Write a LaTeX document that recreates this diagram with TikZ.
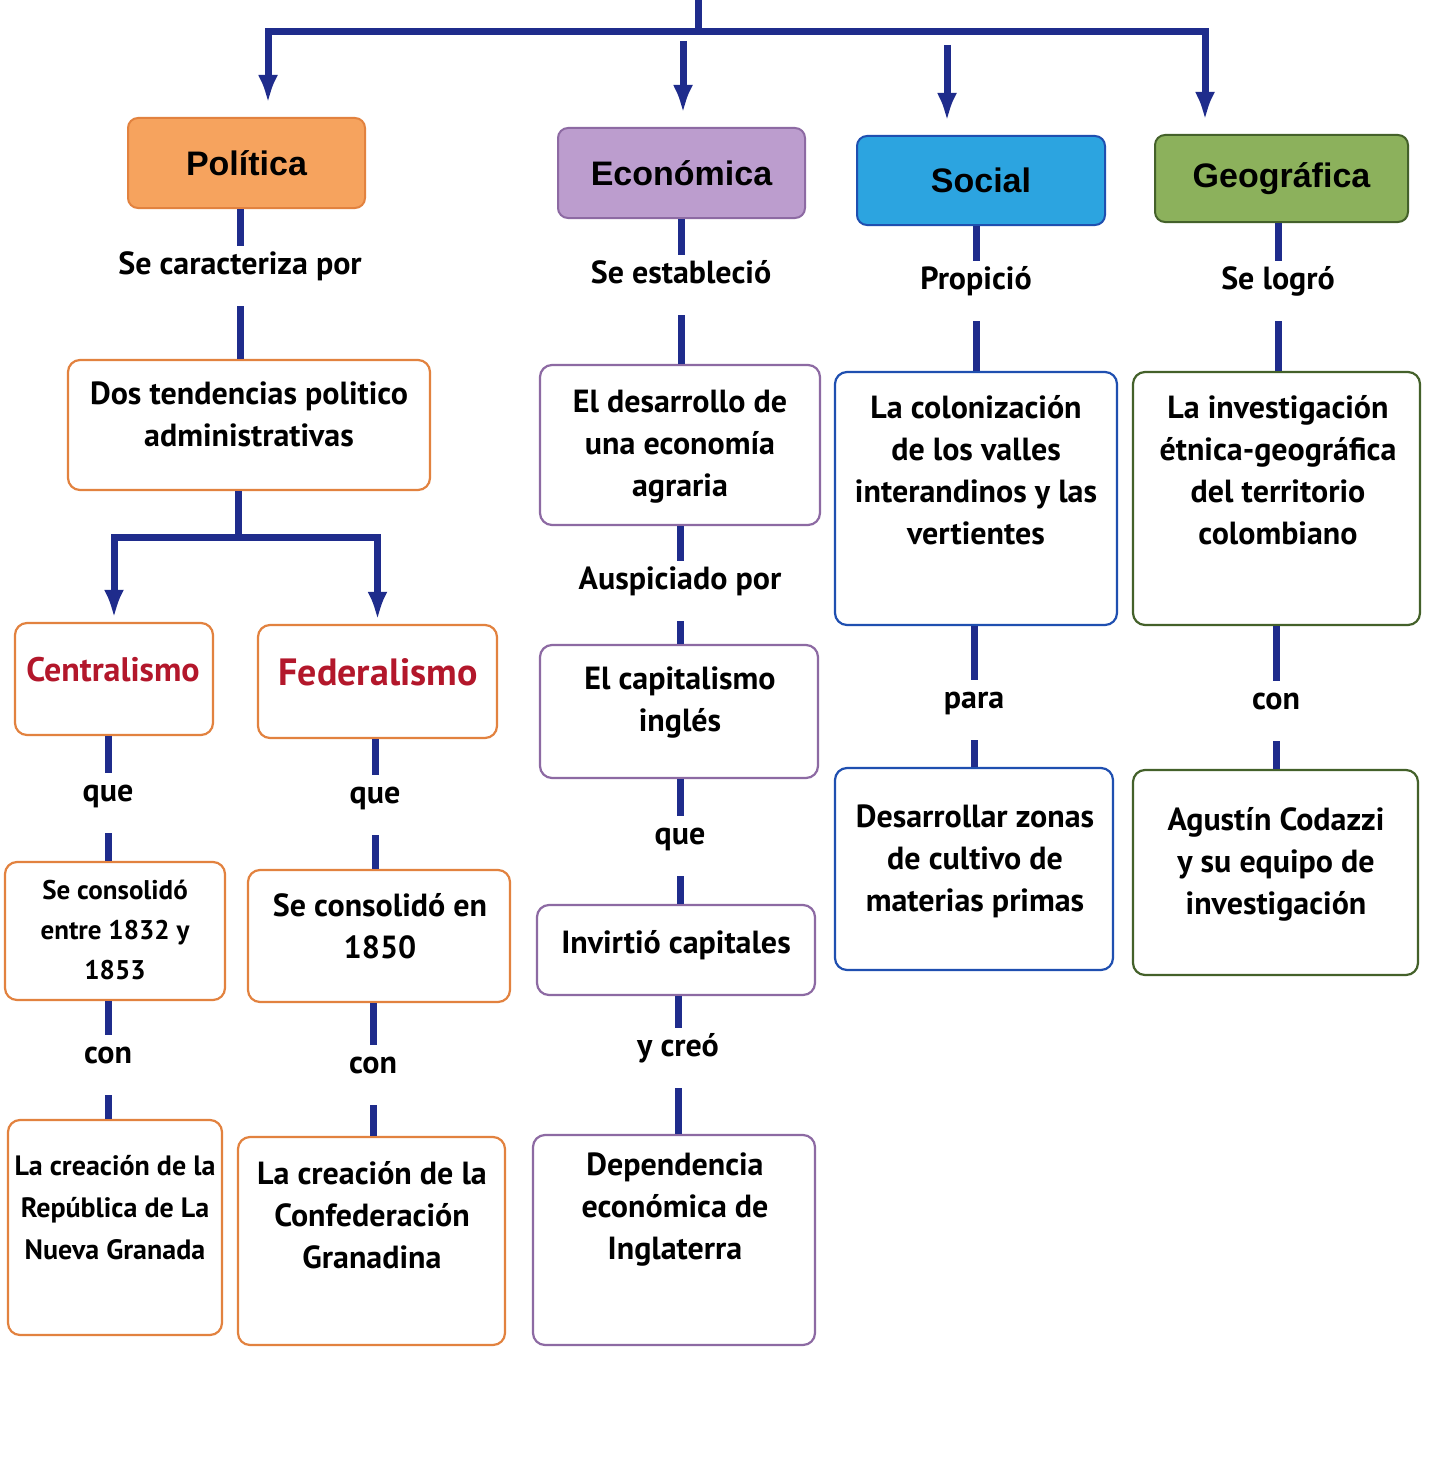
\documentclass[tikz,border=0pt]{standalone}
\usepackage{fontspec}
\setmainfont{PT Sans}
\newfontfamily\headfont{Liberation Sans}
\usetikzlibrary{arrows.meta,fit}

\definecolor{linkblue}{HTML}{1F2C8C}
\definecolor{polfill}{HTML}{F6A35E}
\definecolor{poldraw}{HTML}{E2823F}
\definecolor{ecofill}{HTML}{BC9DCE}
\definecolor{ecodraw}{HTML}{8D6AA3}
\definecolor{socfill}{HTML}{2CA4E0}
\definecolor{socdraw}{HTML}{1F4FB0}
\definecolor{geofill}{HTML}{8CB15C}
\definecolor{geodraw}{HTML}{44612A}
\definecolor{tendred}{HTML}{B3172B}

\tikzset{>={Latex[length=14pt,width=10pt]}}

\begin{document}
\begin{tikzpicture}[x=0.5pt, y=-0.5pt,
		link/.style={draw=linkblue, line width=3.5pt},
		head/.style={draw=#1, rounded corners=5pt, line width=1pt, inner sep=0pt,
			font=\headfont\bfseries\fontsize{17}{20}\selectfont},
		box/.style={draw=#1, rounded corners=6pt, line width=1.1pt, inner sep=0pt},
		txt/.style={align=center, inner sep=0pt, font=\bfseries\fontsize{16}{21}\selectfont},
		small/.style={align=center, inner sep=0pt, font=\bfseries\fontsize{13.5}{20}\selectfont},
		lbl/.style={inner xsep=2pt, inner ysep=0pt, text height=14pt, text depth=16pt,
			font=\bfseries\fontsize{16}{20}\selectfont}]

		\path[use as bounding box, fill=white] (0,0) rectangle (1430,1461);

		\node[head=poldraw, fill=polfill, minimum width=118.5pt, minimum height=45pt] (pol) at (246.5,163) {Política};
		\node[head=ecodraw, fill=ecofill, minimum width=123.5pt, minimum height=45pt] (eco) at (681.5,173) {Económica};
		\node[head=socdraw, fill=socfill, minimum width=124pt, minimum height=44.5pt] (soc) at (981,180.5) {Social};
		\node[head=geodraw, fill=geofill, minimum width=126.5pt, minimum height=43.5pt] (geo) at (1281.5,178.5) {Geográfica};

		\coordinate (top) at (698,0);
		\coordinate (barL) at (268,32);
		\coordinate (barR) at (1205,32);
		\coordinate (ecoTop) at (683,41);
		\coordinate (socTop) at (947,45);

		\draw[link] (top) -- (top |- barL);
		\draw[link, line cap=rect] (barL) -- (barR);
		\draw[link, ->, shorten >=7pt] (barL) -- (pol.north -| barL);
		\draw[link, ->, shorten >=7pt] (barR) -- (geo.north -| barR);
		\draw[link, ->, shorten >=7pt] (ecoTop) -- (eco.north -| ecoTop);
		\draw[link, ->, shorten >=7pt] (socTop) -- (soc.north -| socTop);

		\node[box=poldraw, fit={(68,360) (430,490)}] (tend) {};
		\node[box=poldraw, fit={(15,623) (213,735)}] (cen) {};
		\node[box=poldraw, fit={(258,625) (497,738)}] (fed) {};
		\node[box=poldraw, fit={(5,862) (225,1000)}] (cen2) {};
		\node[box=poldraw, fit={(248,870) (510,1002)}] (fed2) {};
		\node[box=poldraw, fit={(8,1120) (222,1335)}] (cen3) {};
		\node[box=poldraw, fit={(238,1137) (505,1345)}] (fed3) {};

		\node[box=ecodraw, fit={(540,365) (820,525)}] (eco1) {};
		\node[box=ecodraw, fit={(540,645) (818,778)}] (eco2) {};
		\node[box=ecodraw, fit={(537,905) (815,995)}] (eco3) {};
		\node[box=ecodraw, fit={(533,1135) (815,1345)}] (eco4) {};

		\node[box=socdraw, fit={(835,372) (1117,625)}] (soc1) {};
		\node[box=socdraw, fit={(835,768) (1113,970)}] (soc2) {};

		\node[box=geodraw, fit={(1133,372) (1420,625)}] (geo1) {};
		\node[box=geodraw, fit={(1133,770) (1418,975)}] (geo2) {};

		\node[txt] (tendT) at (249,414) {Dos tendencias politico\\administrativas};
		\node[txt, text=tendred, font=\bfseries\fontsize{17}{20}\selectfont] (cenT) at (113,670) {Centralismo};
		\node[txt, text=tendred, font=\bfseries\fontsize{19}{20}\selectfont] (fedT) at (378,672) {Federalismo};
		\node[small] (cen2T) at (115,930) {Se consolidó\\entre 1832 y\\1853};
		\node[txt] (fed2T) at (380,926) {Se consolidó en\\1850};
		\node[small, font=\bfseries\fontsize{14}{21}\selectfont] (cen3T) at (115,1208) {La creación de la\\República de La\\Nueva Granada};
		\node[txt] (fed3T) at (372,1215) {La creación de la\\Confederación\\Granadina};

		\node[txt] (eco1T) at (680,447) {El desarrollo de\\una economía\\agraria};
		\node[txt] (eco2T) at (680,703) {El capitalismo\\inglés};
		\node[txt] (eco3T) at (676,945) {Invirtió capitales};
		\node[txt] (eco4T) at (675,1210) {Dependencia\\económica de\\Inglaterra};

		\node[txt] (soc1T) at (976,470) {La colonización\\de los valles\\interandinos y las\\vertientes};
		\node[txt] (soc2T) at (975,861) {Desarrollar zonas\\de cultivo de\\materias primas};

		\node[txt] (geo1T) at (1278,470) {La investigación\\étnica-geográfica\\del territorio\\colombiano};
		\node[txt] (geo2T) at (1276,864) {Agustín Codazzi\\y su equipo de\\investigación};

		\node[lbl] (caract) at (240,276) {Se caracteriza por};
		\node[lbl] (queC) at (108,803) {que};
		\node[lbl] (conC) at (108,1065) {con};
		\node[lbl] (queF) at (375,805) {que};
		\node[lbl] (conF) at (373,1075) {con};
		\node[lbl] (estab) at (681,285) {Se estableció};
		\node[lbl] (auspic) at (680,591) {Auspiciado por};
		\node[lbl] (queE) at (680,846) {que};
		\node[lbl] (ycreo) at (678,1058) {y creó};
		\node[lbl] (propic) at (976,291) {Propició};
		\node[lbl] (para) at (974,710) {para};
		\node[lbl] (logro) at (1278,291) {Se logró};
		\node[lbl] (conG) at (1276,711) {con};

		\draw[link] (pol.south -| caract) -- (caract);
		\draw[link] (caract) -- (tend.north -| caract);
		\coordinate (split) at (238,537);
		\draw[link] (tend.south -| split) -- (split);
		\draw[link, ->, shorten >=2pt] (split) -| (cen.north);
		\draw[link, ->, shorten >=2pt] (split) -| (fed.north);

		\draw[link] (cen.south -| queC) -- (queC);
		\draw[link] (queC) -- (cen2.north -| queC);
		\draw[link] (cen2.south -| conC) -- (conC);
		\draw[link] (conC) -- (cen3.north -| conC);

		\draw[link] (fed.south -| queF) -- (queF);
		\draw[link] (queF) -- (fed2.north -| queF);
		\draw[link] (fed2.south -| conF) -- (conF);
		\draw[link] (conF) -- (fed3.north -| conF);

		\draw[link] (eco.south -| estab) -- (estab);
		\draw[link] (estab) -- (eco1.north -| estab);
		\draw[link] (eco1.south -| auspic) -- (auspic);
		\draw[link] (auspic) -- (eco2.north -| auspic);
		\draw[link] (eco2.south -| queE) -- (queE);
		\draw[link] (queE) -- (eco3.north -| queE);
		\draw[link] (eco3.south -| ycreo) -- (ycreo);
		\draw[link] (ycreo) -- (eco4.north -| ycreo);

		\draw[link] (soc.south -| propic) -- (propic);
		\draw[link] (propic) -- (soc1.north -| propic);
		\draw[link] (soc1.south -| para) -- (para);
		\draw[link] (para) -- (soc2.north -| para);

		\draw[link] (geo.south -| logro) -- (logro);
		\draw[link] (logro) -- (geo1.north -| logro);
		\draw[link] (geo1.south -| conG) -- (conG);
		\draw[link] (conG) -- (geo2.north -| conG);

	\end{tikzpicture}
\end{document}
